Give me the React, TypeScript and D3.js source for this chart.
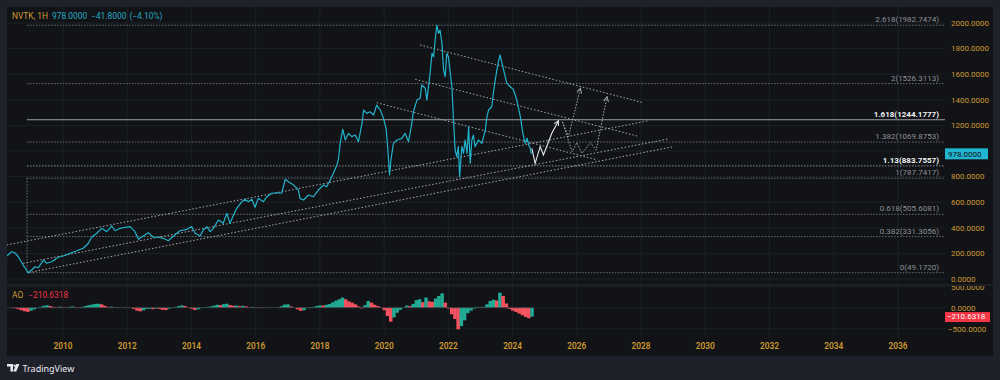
import React from "react";
import * as d3 from "d3";

// ---------- DATA ----------
const yearTicks = [2010, 2012, 2014, 2016, 2018, 2020, 2022, 2024, 2026, 2028, 2030, 2032, 2034, 2036];
const priceTicks = [0, 200, 400, 600, 800, 1000, 1200, 1400, 1600, 1800, 2000];
const aoTicks = [500, 0, -500];

// NVTK close (decimal year, price)
const priceSeries: [number, number][] = [
  [2008.25, 180], [2008.4, 213], [2008.5, 205], [2008.61, 174], [2008.76, 109], [2008.82, 86],
  [2008.92, 49], [2009.02, 70], [2009.13, 96], [2009.23, 88], [2009.39, 148], [2009.49, 123],
  [2009.65, 135], [2009.85, 170], [2010.01, 180], [2010.22, 201], [2010.43, 221], [2010.63, 240],
  [2010.79, 279], [2010.89, 326], [2011.05, 357], [2011.21, 396], [2011.36, 370], [2011.52, 414],
  [2011.62, 377], [2011.78, 396], [2011.93, 404], [2012.09, 409], [2012.24, 370], [2012.35, 310],
  [2012.5, 336], [2012.66, 362], [2012.81, 326], [2012.97, 326], [2013.12, 318], [2013.28, 299],
  [2013.44, 336], [2013.64, 377], [2013.85, 388], [2014.01, 409], [2014.11, 357], [2014.27, 336],
  [2014.37, 383], [2014.48, 409], [2014.58, 370], [2014.68, 396], [2014.84, 461], [2014.99, 435],
  [2015.1, 513], [2015.2, 435], [2015.31, 500], [2015.41, 552], [2015.57, 604], [2015.67, 623],
  [2015.77, 604], [2015.88, 623], [2015.98, 560], [2016.08, 630], [2016.24, 604], [2016.35, 643],
  [2016.5, 670], [2016.66, 674], [2016.81, 670], [2016.92, 779], [2017.02, 760], [2017.18, 734],
  [2017.33, 695], [2017.38, 630], [2017.49, 617], [2017.64, 656], [2017.8, 643], [2017.95, 695],
  [2018.11, 734], [2018.21, 721], [2018.32, 773], [2018.42, 826], [2018.53, 891], [2018.58, 943],
  [2018.63, 1060], [2018.71, 1170], [2018.79, 1086], [2018.89, 1138], [2018.99, 1112], [2019.1, 1125],
  [2019.2, 1073], [2019.31, 1216], [2019.36, 1320], [2019.46, 1294], [2019.56, 1307], [2019.67, 1281],
  [2019.77, 1359], [2019.88, 1320], [2019.98, 1255], [2020.06, 1177], [2020.1, 1060], [2020.17, 813],
  [2020.21, 930], [2020.29, 1060], [2020.4, 1086], [2020.55, 1099], [2020.65, 1138], [2020.76, 1073],
  [2020.86, 1216], [2020.91, 1307], [2021.02, 1398], [2021.12, 1412], [2021.17, 1516], [2021.28, 1490],
  [2021.33, 1398], [2021.43, 1607], [2021.49, 1763], [2021.54, 1737], [2021.59, 1867], [2021.64, 1984],
  [2021.69, 1920], [2021.74, 1945], [2021.8, 1841], [2021.85, 1633], [2021.9, 1580], [2021.95, 1763],
  [2022.0, 1737], [2022.06, 1607], [2022.11, 1502], [2022.16, 1242], [2022.21, 1008], [2022.26, 955],
  [2022.31, 1034], [2022.35, 799], [2022.42, 1034], [2022.47, 982], [2022.52, 1086], [2022.58, 982],
  [2022.63, 1190], [2022.68, 904], [2022.73, 1086], [2022.78, 1125], [2022.83, 1034], [2022.94, 1086],
  [2023.04, 1060], [2023.15, 1164], [2023.2, 1268], [2023.25, 1320], [2023.35, 1346], [2023.4, 1451],
  [2023.46, 1555], [2023.51, 1633], [2023.56, 1698], [2023.61, 1750], [2023.67, 1685], [2023.72, 1633],
  [2023.82, 1529], [2023.93, 1502], [2024.03, 1477], [2024.13, 1398], [2024.24, 1268], [2024.32, 1138],
  [2024.39, 1060], [2024.45, 1099], [2024.5, 1047], [2024.55, 1021], [2024.58, 978],
];

// Awesome Oscillator (decimal year, value)
const aoSeries: [number, number][] = [
  [2008.3, 0], [2008.4, -5], [2008.5, -15], [2008.6, -35], [2008.7, -60], [2008.8, -85], [2008.9, -100],
  [2009.0, -70], [2009.1, -40], [2009.2, -10], [2009.3, 20], [2009.4, 45], [2009.5, 57], [2009.6, 40],
  [2009.7, 20], [2009.8, 10], [2009.9, 25], [2010.0, 15], [2010.1, 5], [2010.2, 20], [2010.3, 30],
  [2010.4, 15], [2010.5, 10], [2010.6, 20], [2010.7, 40], [2010.8, 60], [2010.9, 75], [2011.0, 90],
  [2011.1, 95], [2011.2, 80], [2011.3, 45], [2011.4, 20], [2011.5, 25], [2011.6, 10], [2011.7, 15],
  [2011.8, 0], [2011.9, 10], [2012.0, 5], [2012.1, -5], [2012.2, -30], [2012.3, -70], [2012.4, -86],
  [2012.5, -60], [2012.6, -30], [2012.7, -25], [2012.8, -35], [2012.9, -20], [2013.0, -30], [2013.1, -50],
  [2013.2, -55], [2013.3, -25], [2013.4, 5], [2013.5, 20], [2013.6, 40], [2013.7, 55], [2013.8, 40],
  [2013.9, 10], [2014.0, -25], [2014.1, -55], [2014.2, -40], [2014.3, -10], [2014.4, 10], [2014.5, 20],
  [2014.6, 30], [2014.7, 50], [2014.8, 70], [2014.9, 60], [2015.0, 85], [2015.1, 95], [2015.2, 60],
  [2015.3, 45], [2015.4, 50], [2015.5, 35], [2015.6, 45], [2015.7, 30], [2015.8, 15], [2015.9, 20],
  [2016.0, 5], [2016.1, -10], [2016.2, 5], [2016.3, 10], [2016.4, 0], [2016.5, 5], [2016.6, 0],
  [2016.7, 10], [2016.8, 35], [2016.9, 75], [2017.0, 80], [2017.1, 30], [2017.2, 0], [2017.3, -40],
  [2017.4, -75], [2017.5, -60], [2017.6, -10], [2017.7, 15], [2017.8, 20], [2017.9, 40], [2018.0, 55],
  [2018.1, 50], [2018.2, 70], [2018.3, 85], [2018.4, 130], [2018.5, 170], [2018.6, 200], [2018.7, 240],
  [2018.8, 200], [2018.9, 150], [2019.0, 120], [2019.1, 80], [2019.2, 30], [2019.3, -15], [2019.4, 60],
  [2019.5, 160], [2019.6, 120], [2019.7, 70], [2019.8, 40], [2019.9, 10], [2020.0, -60], [2020.1, -200],
  [2020.2, -333], [2020.3, -230], [2020.4, -120], [2020.5, -50], [2020.6, 10], [2020.7, 50], [2020.8, 40],
  [2020.9, 90], [2021.0, 180], [2021.1, 200], [2021.2, 130], [2021.3, 240], [2021.4, 150], [2021.5, 140],
  [2021.6, 220], [2021.7, 280], [2021.8, 340], [2021.9, 120], [2022.0, -20], [2022.1, -157], [2022.2, -270],
  [2022.3, -515], [2022.4, -440], [2022.5, -300], [2022.6, -130], [2022.7, -70], [2022.8, -20], [2022.9, 20],
  [2023.0, 15], [2023.1, 20], [2023.2, 80], [2023.3, 160], [2023.4, 190], [2023.5, 170], [2023.6, 357],
  [2023.7, 280], [2023.8, 100], [2023.9, -30], [2024.0, -70], [2024.1, -100], [2024.2, -140], [2024.3, -180],
  [2024.4, -220], [2024.5, -250], [2024.6, -210.6318],
];

// Trend-based Fibonacci extension
const fibRatios = ["2.618", "2", "1.618", "1.382", "1.13", "1", "0.618", "0.382", "0"];
const fibValues = [1982.7474, 1526.3113, 1244.1777, 1069.8753, 883.7557, 787.7417, 505.6081, 331.3056, 49.172];
const fibStartYear = 2008.88;

// Trend lines: [year1, price1, year2, price2]
const channelLines: [number, number, number, number][] = [
  [2008.25, 266, 2028.19, 1234],
  [2008.76, 123, 2028.85, 1094],
  [2008.92, 49, 2029.03, 1035],
  [2019.77, 1377, 2026.64, 930],
  [2020.97, 1560, 2027.88, 1117],
  [2021.12, 1828, 2028.04, 1379],
];

// Projected paths
const projectionMain: [number, number][] = [
  [2024.6, 1021], [2024.7, 904], [2024.86, 1034], [2024.96, 969], [2025.22, 1138], [2025.43, 1237],
];
const projectionAltA: [number, number][] = [
  [2025.55, 1227], [2025.74, 1112], [2026.11, 1490],
];
const projectionAltB: [number, number][] = [
  [2025.55, 1227], [2025.85, 995], [2026.0, 1065], [2026.16, 982], [2026.42, 1065], [2026.6, 1008], [2026.94, 1424],
];

const symbol = "NVTK, 1H";
const lastPrice = 978.0;
const change = -41.8;
const changePct = -4.1;
const aoLast = -210.6318;

// ---------- COMPONENT ----------
export default function App() {
  const W = 1000, H = 380;
  const panel = { l: 7, t: 7, r: 993, b: 356 };
  const plotRight = 945;
  const pricePane = { t: 7, b: 285 };
  const aoPane = { t: 285, b: 337 };

  const x = d3.scaleLinear().domain([2010, 2036]).range([63, 898]);
  const y = d3.scaleLinear().domain([0, 2000]).range([279, 23]);
  const ya = d3.scaleLinear().domain([-500, 500]).range([328.7, 286.7]);

  const fontFam = "Roboto, 'Noto Sans', sans-serif";
  const gold = "#d09a32";
  const gridC = "#1d2027";

  const line = d3.line<[number, number]>().x(d => x(d[0])).y(d => y(d[1]));
  const fmt = (v: number) => v.toFixed(4).replace("-", "\u2212");

  const green = "#22ab94";
  const red = "#f7525f";

  const step = 0.1;
  const lastY = y(lastPrice);
  // axis labels hidden behind the last-price badge (as the platform does)
  const visiblePriceTicks = priceTicks.filter(t => Math.abs(y(t) - lastY) > 10);

  return (
    <div style={{ position: "absolute", left: 0, top: 0 }}>
      <svg width={W} height={H} style={{ display: "block" }} fontFamily={fontFam}>
        <defs>
          <clipPath id="clipPrice">
            <rect x={panel.l} y={pricePane.t} width={plotRight - panel.l} height={pricePane.b - pricePane.t} />
          </clipPath>
          <clipPath id="clipAO">
            <rect x={panel.l} y={aoPane.t} width={plotRight - panel.l} height={aoPane.b - aoPane.t} />
          </clipPath>
          <clipPath id="clipAOAxis">
            <rect x={plotRight} y={aoPane.t + 1} width={panel.r - plotRight} height={aoPane.b - aoPane.t} />
          </clipPath>
          <marker id="arrW" viewBox="0 0 6 6" refX="5" refY="3" markerWidth="6" markerHeight="6" orient="auto" markerUnits="userSpaceOnUse">
            <path d="M0,0.5 L5,3 L0,5.5" fill="none" stroke="#e6e8ee" strokeWidth="1" />
          </marker>
          <marker id="arrG" viewBox="0 0 6 6" refX="5" refY="3" markerWidth="6" markerHeight="6" orient="auto" markerUnits="userSpaceOnUse">
            <path d="M0,0.5 L5,3 L0,5.5" fill="none" stroke="#a9acb4" strokeWidth="1" />
          </marker>
        </defs>

        {/* backgrounds */}
        <rect x={0} y={0} width={W} height={H} fill="#1e212a" />
        <rect x={panel.l} y={panel.t} width={panel.r - panel.l} height={panel.b - panel.t} fill="#111317" />

        {/* vertical grid */}
        {yearTicks.map(t => (
          <line key={"vg" + t} x1={x(t)} x2={x(t)} y1={pricePane.t} y2={aoPane.b} stroke={gridC} strokeWidth={1} />
        ))}
        {/* horizontal grid price */}
        {priceTicks.map(t => (
          <line key={"hg" + t} x1={panel.l} x2={plotRight} y1={y(t)} y2={y(t)} stroke={gridC} strokeWidth={1} />
        ))}
        {/* AO grid */}
        {aoTicks.map(t => (
          <line key={"ag" + t} x1={panel.l} x2={plotRight} y1={ya(t)} y2={ya(t)} stroke={gridC} strokeWidth={1} />
        ))}

        {/* pane separator */}
        <line x1={panel.l} x2={panel.r} y1={pricePane.b} y2={pricePane.b} stroke="#2a2d35" strokeWidth={1} />

        {/* price pane */}
        <g clipPath="url(#clipPrice)">
          {/* fib levels */}
          {fibValues.map((v, i) => {
            const strong = fibRatios[i] === "1.618";
            return (
              <line key={"fl" + i} x1={x(fibStartYear)} x2={plotRight} y1={y(v)} y2={y(v)}
                stroke={strong ? "#9a9da5" : fibRatios[i] === "1.13" ? "#8b8e96" : "#6a6d75"}
                strokeWidth={1} strokeDasharray={strong ? undefined : "1.5,1.5"} />
            );
          })}
          <line x1={x(fibStartYear)} x2={x(fibStartYear)} y1={y(fibValues[5])} y2={y(fibValues[8])}
            stroke="#6a6d75" strokeWidth={1} strokeDasharray="1.5,1.5" />
          {fibValues.map((v, i) => {
            const strong = fibRatios[i] === "1.618" || fibRatios[i] === "1.13";
            return (
              <text key={"ft" + i} x={939} y={y(v) - 3} textAnchor="end" fontSize={8}
                fill={strong ? "#f0f2f5" : "#8d9099"} fontWeight={strong ? 700 : 400}>
                {fibRatios[i]}({v.toFixed(4)})
              </text>
            );
          })}

          {/* trend lines */}
          {channelLines.map((l, i) => (
            <line key={"tl" + i} x1={x(l[0])} y1={y(l[1])} x2={x(l[2])} y2={y(l[3])}
              stroke="#a7aab2" strokeWidth={1} strokeDasharray="1.5,2" />
          ))}

          {/* price line */}
          <path d={line(priceSeries) || ""} fill="none" stroke="#21b3cb" strokeWidth={1.2} strokeLinejoin="round" />

          {/* projections */}
          <path d={line(projectionAltA) || ""} fill="none" stroke="#a9acb4" strokeWidth={1} strokeDasharray="1.5,1.5" markerEnd="url(#arrG)" />
          <path d={line(projectionAltB) || ""} fill="none" stroke="#a9acb4" strokeWidth={1} strokeDasharray="1.5,1.5" markerEnd="url(#arrG)" />
          <path d={line(projectionMain) || ""} fill="none" stroke="#e6e8ee" strokeWidth={1.1} markerEnd="url(#arrW)" />
        </g>

        {/* AO pane */}
        <g clipPath="url(#clipAO)">
          {aoSeries.map((d, i) => {
            const prev = i > 0 ? aoSeries[i - 1][1] : d[1];
            const up = d[1] >= prev;
            const x0 = x(d[0] - step / 2);
            const x1 = x(d[0] + step / 2);
            const y0 = ya(0);
            const y1 = ya(d[1]);
            return (
              <rect key={"ao" + i} x={x0} width={x1 - x0 + 0.3} y={Math.min(y0, y1)} height={Math.abs(y1 - y0)}
                fill={up ? green : red} />
            );
          })}
          <line x1={panel.l} x2={x(aoSeries[aoSeries.length - 1][0] + step / 2)} y1={ya(0)} y2={ya(0)} stroke="#3a3d45" strokeWidth={0.8} />
        </g>

        {/* price axis labels */}
        {visiblePriceTicks.map(t => (
          <text key={"pt" + t} x={951} y={y(t)} dy="0.35em" fontSize={8} fill={gold}>
            {t.toFixed(4)}
          </text>
        ))}
        {/* last price box */}
        <rect x={945} y={lastY - 5.5} width={43} height={11} fill="#22b5d0" />
        <text x={948} y={lastY} dy="0.35em" fontSize={8} fill="#0d1014">{lastPrice.toFixed(4)}</text>

        {/* AO axis labels */}
        <g clipPath="url(#clipAOAxis)">
          {aoTicks.map(t => (
            <text key={"at" + t} x={t < 0 ? 948 : 951} y={ya(t)} dy="0.35em" fontSize={8} fill={gold}>
              {fmt(t)}
            </text>
          ))}
        </g>
        <rect x={945} y={ya(aoLast) - 4.5} width={45} height={10} fill="#f23645" />
        <text x={947} y={ya(aoLast)} dy="0.35em" fontSize={8} fill="#ffffff">{fmt(aoLast)}</text>

        {/* time axis labels */}
        {yearTicks.map(t => (
          <text key={"xt" + t} x={x(t)} y={349.3} textAnchor="middle" fontSize={8.3} fontWeight={600} fill={gold}>
            {t}
          </text>
        ))}

        {/* legends */}
        <text x={12} y={18.7} fontSize={8.4}>
          <tspan fill={gold}>{symbol}</tspan>
          <tspan fill="#27a9c3" dx={4}>{lastPrice.toFixed(4)}</tspan>
          <tspan fill="#27a9c3" dx={4}>{fmt(change)}</tspan>
          <tspan fill="#27a9c3" dx={3}>({changePct.toFixed(2).replace("-", "\u2212")}%)</tspan>
        </text>
        <text x={12} y={298} fontSize={8.4}>
          <tspan fill={gold}>AO</tspan>
          <tspan fill="#f23645" dx={5}>{fmt(aoLast)}</tspan>
        </text>

        {/* TradingView logo */}
        <g fill="#e8eaee">
          <path d="M7,364 h6 v7.5 h-2.6 v-4.9 h-3.4 z" />
          <circle cx={14.6} cy={365.6} r={1.2} />
          <path d="M16.2,364 h3.2 l-3.2,7.5 h-3 z" />
        </g>
        <text x={22.5} y={371.5} fontSize={9} fill="#e8eaee" fontFamily="'Noto Sans', Roboto, sans-serif">TradingView</text>
      </svg>
    </div>
  );
}
